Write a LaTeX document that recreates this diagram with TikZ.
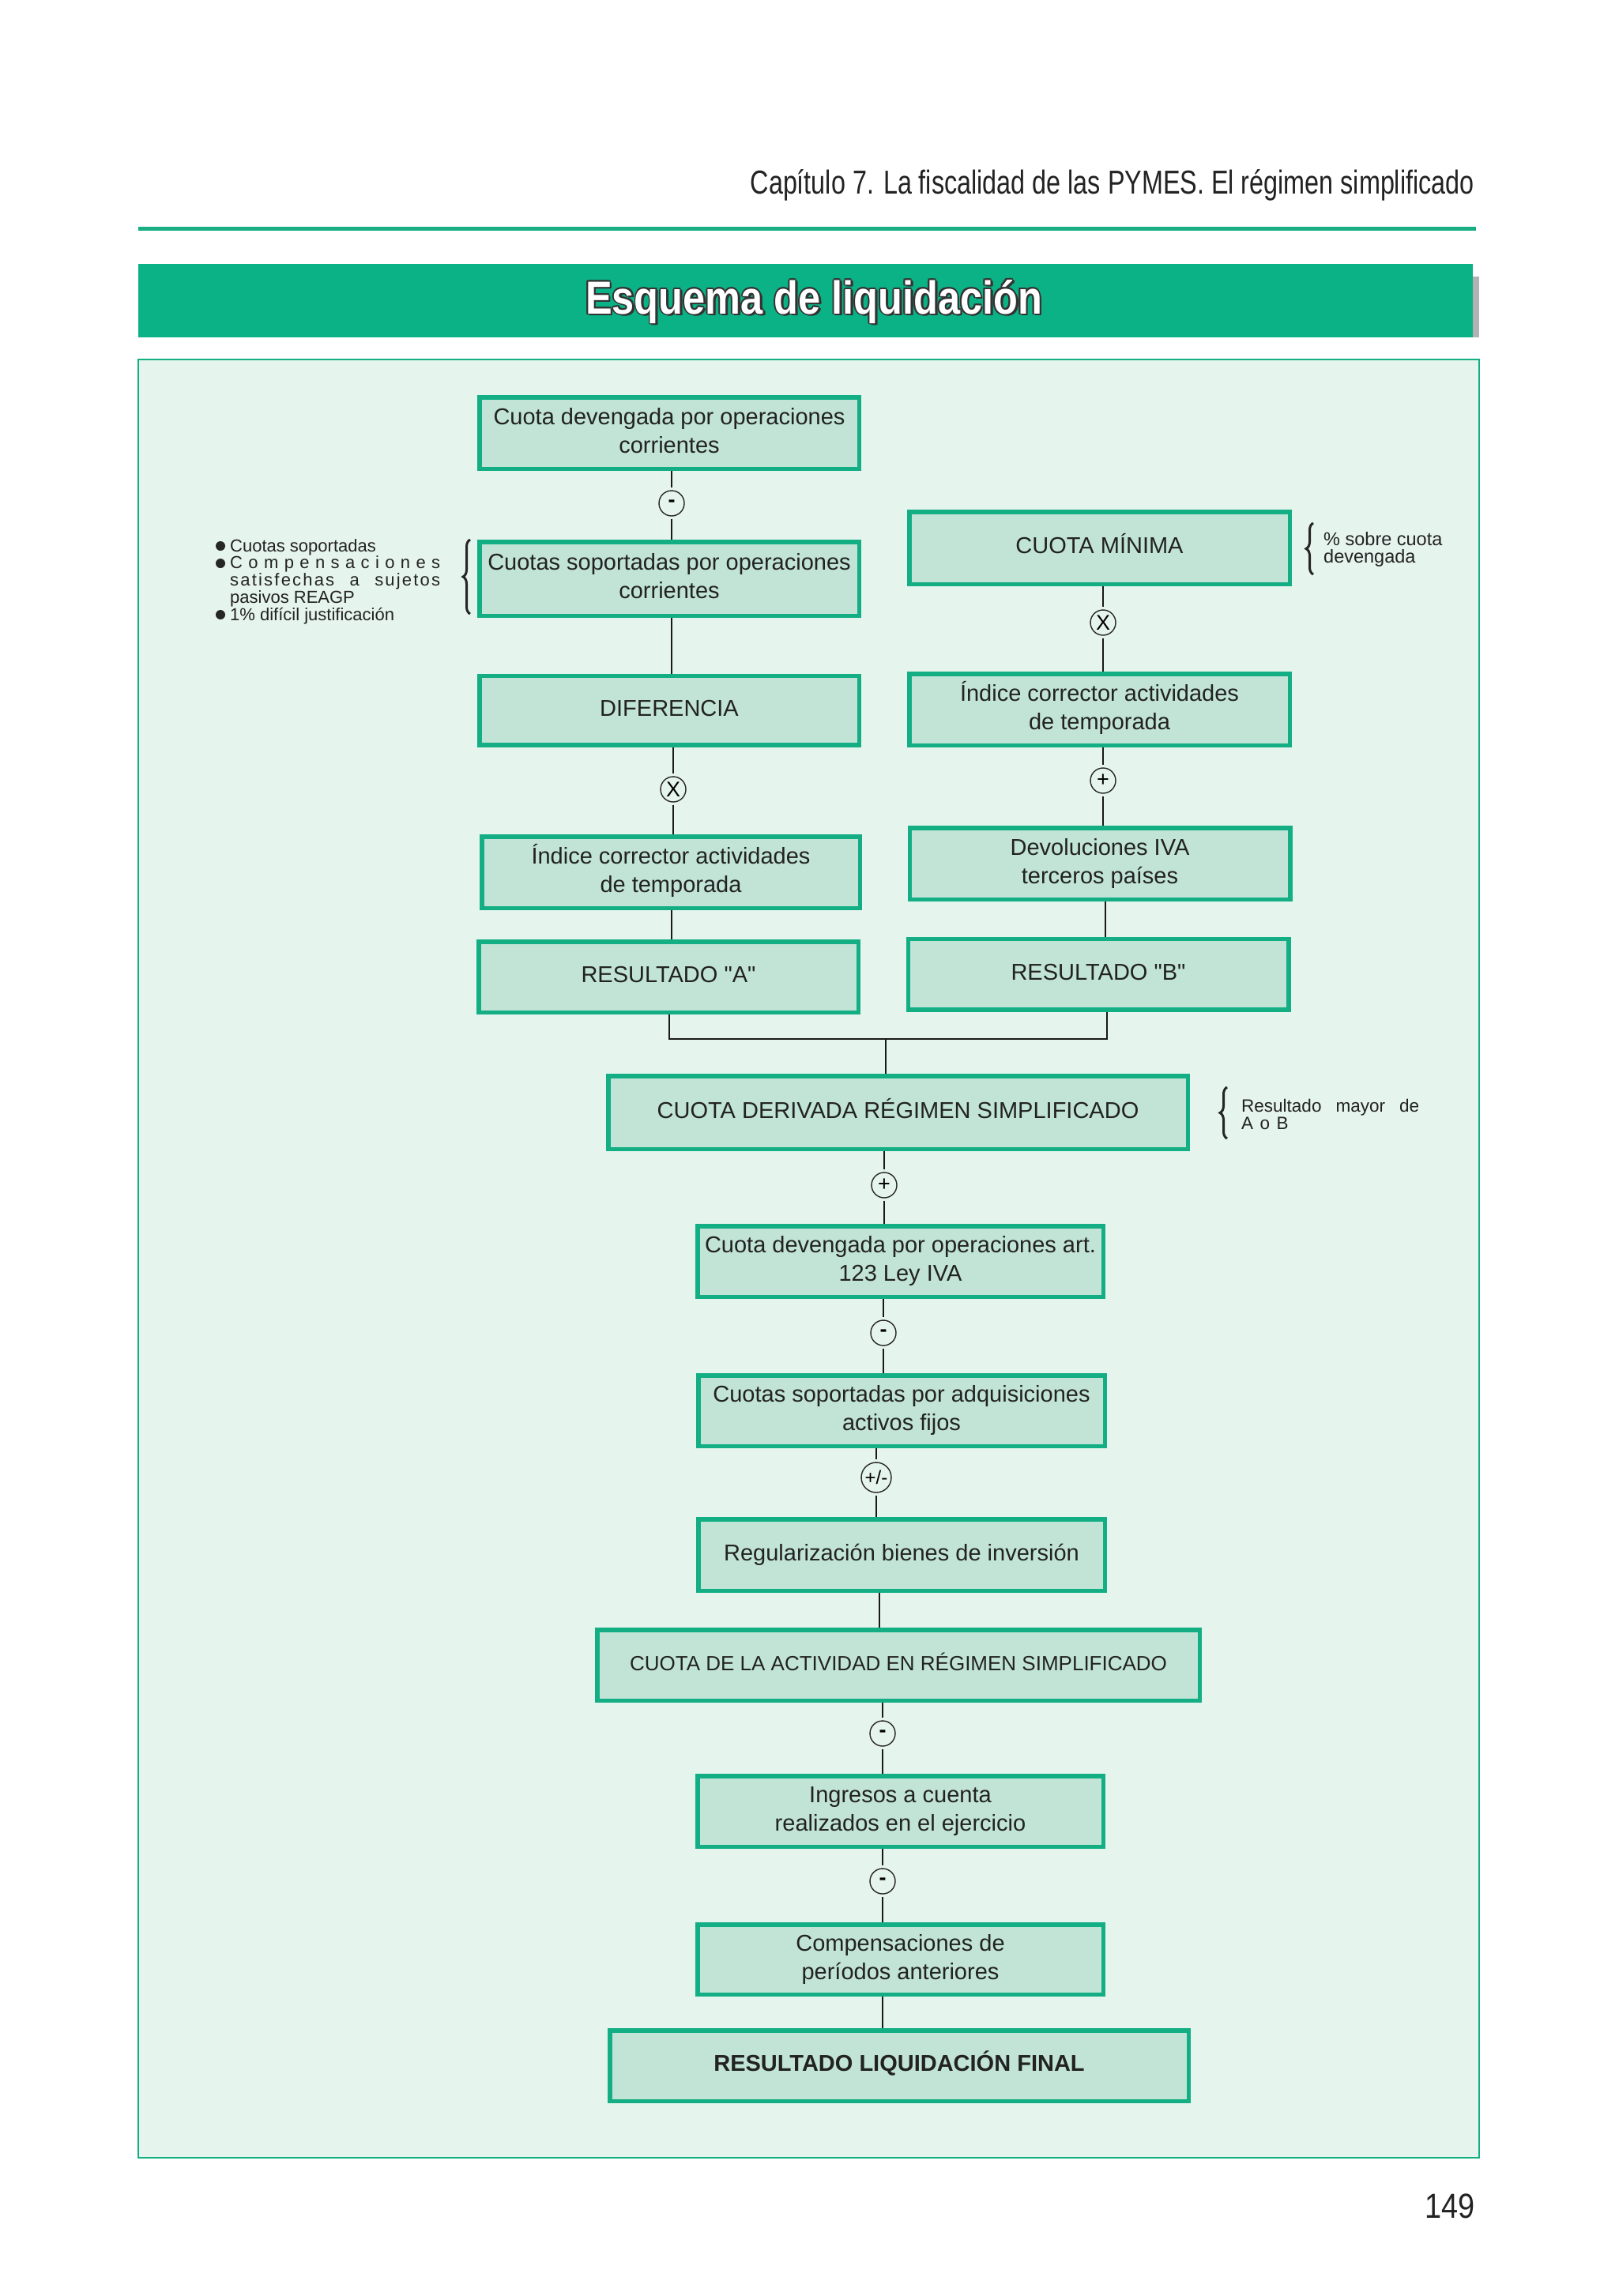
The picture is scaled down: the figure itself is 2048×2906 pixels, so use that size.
\documentclass[tikz,border=0pt]{standalone}
\usepackage{fontspec}
\setmainfont{Liberation Sans}
\newfontfamily\condfont[FakeStretch=0.77]{Liberation Sans}
\newfontfamily\titlefont[FakeStretch=0.86]{Liberation Sans}
\newfontfamily\qfont{Liberation Sans}
\newfontfamily\spacedfont[LetterSpace=10]{Liberation Sans}
\newcommand{\dq}{{\qfont"}}
\usetikzlibrary{decorations.pathreplacing}
\pgfdeclarelayer{back}
\pgfdeclarelayer{bg}
\pgfsetlayers{back,bg,main}
\definecolor{panelfill}{HTML}{E6F4EE}
\definecolor{boxfill}{HTML}{C1E4D7}
\definecolor{boxline}{HTML}{13AE83}
\definecolor{bannergreen}{HTML}{0BB286}
\definecolor{rulegreen}{HTML}{19AD84}
\definecolor{inkgray}{HTML}{222222}
\tikzset{
  box/.style={draw=boxline, line width=5.5pt, fill=boxfill, rectangle, inner sep=0pt,
    align=center, text=inkgray, font=\fontsize{29}{36}\selectfont},
  bx/.style 2 args={minimum width=#1, minimum height=#2},
  opnode/.style={circle, draw=black!85, line width=1.4pt, fill=panelfill, inner sep=0pt,
    minimum size=32pt, font=\fontsize{27}{27}\selectfont},
  conn/.style={draw=black!90, line width=2.2pt},
  toop/.style={conn, shorten >=3pt},
  fromop/.style={conn, shorten <=3pt},
  note/.style={anchor=base west, inner sep=0pt, align=left, text=inkgray},
  bracestyle/.style={decorate, decoration={brace, amplitude=9pt}, line width=3pt, draw=black!85},
  titletext/.style={anchor=base, inner sep=0pt, font=\titlefont\bfseries\fontsize{58.7}{60}\selectfont}
}
\begin{document}
\begin{tikzpicture}[x=1pt,y=-1pt]
\useasboundingbox (0,0) rectangle (2048,2906);
\begin{pgfonlayer}{back}
\fill[white] (0,0) rectangle (2048,2906);
\draw[line width=5pt, rulegreen] (175,289) -- (1868,289);
\fill[bannergreen] (175,334) rectangle (1864,427);
\fill[black!30] (1864,350) rectangle (1872,427);
\filldraw[fill=panelfill, draw=boxline, line width=2.5pt] (175,455) rectangle (1872,2731);
\end{pgfonlayer}

% header
\node[anchor=base east, inner sep=0pt, text=inkgray, font=\condfont\fontsize{42}{42}\selectfont] (header) at (1866,245)
  {Capítulo 7. La fiscalidad de las PYMES. El régimen simplificado};

% banner title
\foreach \dx/\dy [count=\i] in {-1.8/0,1.8/0,0/-1.8,0/1.8,-1.3/-1.3,1.3/1.3,-1.3/1.3,1.3/-1.3,2.8/2.8,2.8/1.5,1.5/2.8}
  \node[titletext, text=black!80] (tsh\i) at (1030+\dx,397+\dy) {Esquema de liquidación};
\node[titletext, text=white] (title) at (1030,397) {Esquema de liquidación};

% left column
\node[box, bx={480.5pt}{90.5pt}] (b1) at (847,548) {\strut Cuota devengada por operaciones\\\strut corrientes};
\node[box, bx={480.5pt}{93.5pt}] (b2) at (847,732.5) {\strut Cuotas soportadas por operaciones\\\strut corrientes};
\node[box, bx={480.5pt}{87.5pt}] (b3) at (847,899) {\strut DIFERENCIA};
\node[box, bx={478.5pt}{90.5pt}] (l4) at (849,1104) {\strut Índice corrector actividades\\\strut de temporada};
\node[box, bx={480.5pt}{89.5pt}] (l5) at (846,1236.5) {\strut RESULTADO \dq A\dq};

% right column
\node[box, bx={481.5pt}{91.5pt}] (r1) at (1391.5,693.5) {\strut CUOTA MÍNIMA};
\node[box, bx={481.5pt}{90.5pt}] (r2) at (1391.5,898) {\strut Índice corrector actividades\\\strut de temporada};
\node[box, bx={481.5pt}{90.5pt}] (r3) at (1392,1093) {\strut Devoluciones IVA\\\strut terceros países};
\node[box, bx={481.5pt}{89.5pt}] (r4) at (1390,1233) {\strut RESULTADO \dq B\dq};

% central column
\node[box, bx={733.5pt}{92.5pt}] (d1) at (1136.5,1408) {\strut CUOTA DERIVADA RÉGIMEN SIMPLIFICADO};
\node[box, bx={513.5pt}{89.5pt}] (d2) at (1139.5,1596.5) {\strut Cuota devengada por operaciones art.\\\strut 123 Ley IVA};
\node[box, bx={514.5pt}{89.5pt}] (d3) at (1141,1785.5) {\strut Cuotas soportadas por adquisiciones\\\strut activos fijos};
\node[box, bx={514.5pt}{90.5pt}] (d4) at (1141,1968) {\strut Regularización bienes de inversión};
\node[box, bx={762.5pt}{89.5pt}, font=\fontsize{26}{36}\selectfont] (d5) at (1137,2107.5) {\strut CUOTA DE LA ACTIVIDAD EN RÉGIMEN SIMPLIFICADO};
\node[box, bx={513.5pt}{89.5pt}] (d6) at (1139.5,2292.5) {\strut Ingresos a cuenta\\\strut realizados en el ejercicio};
\node[box, bx={513.5pt}{88.5pt}] (d7) at (1139.5,2480) {\strut Compensaciones de\\\strut períodos anteriores};
\node[box, bx={732.5pt}{89.5pt}] (d8) at (1138,2614.5) {\strut\textbf{RESULTADO LIQUIDACIÓN FINAL}};

% operator circles
\node[opnode] (o1) at (850,637) {\textbf{-}};
\node[opnode] (o2) at (1396,788) {X};
\node[opnode] (o3) at (852,999) {X};
\node[opnode] (o4) at (1396,988) {+};
\node[opnode] (o5) at (1119,1500) {+};
\node[opnode] (o6) at (1118,1687) {\textbf{-}};
\node[opnode, minimum size=38pt, font=\fontsize{24}{24}\selectfont] (o7) at (1109,1870) {+/-};
\node[opnode] (o8) at (1117,2194) {\textbf{-}};
\node[opnode] (o9) at (1117,2381) {\textbf{-}};

% junction coordinates
\coordinate (jl) at (847,1315);
\coordinate (jr) at (1401,1315);
\coordinate (jm) at (1121,1315);
\coordinate (xl) at (850,1200);
\coordinate (xr) at (1399,1200);
\coordinate (xd) at (1113,2040);
\coordinate (xf) at (1117,2550);

% connectors
\begin{pgfonlayer}{bg}
\draw[toop] (b1.south -| o1) -- (o1);
\draw[fromop] (o1) -- (b2.north -| o1);
\draw[conn] (b2.south -| o1) -- (b3.north -| o1);
\draw[toop] (b3.south -| o3) -- (o3);
\draw[fromop] (o3) -- (l4.north -| o3);
\draw[conn] (l4.south -| xl) -- (l5.north -| xl);
\draw[toop] (r1.south -| o2) -- (o2);
\draw[fromop] (o2) -- (r2.north -| o2);
\draw[toop] (r2.south -| o4) -- (o4);
\draw[fromop] (o4) -- (r3.north -| o4);
\draw[conn] (r3.south -| xr) -- (r4.north -| xr);
\draw[conn] (l5.south -| jl) -- (jl) -- (jr) -- (r4.south -| jr);
\draw[conn] (jm) -- (d1.north -| jm);
\draw[toop] (d1.south -| o5) -- (o5);
\draw[fromop] (o5) -- (d2.north -| o5);
\draw[toop] (d2.south -| o6) -- (o6);
\draw[fromop] (o6) -- (d3.north -| o6);
\draw[toop] (d3.south -| o7) -- (o7);
\draw[fromop] (o7) -- (d4.north -| o7);
\draw[conn] (d4.south -| xd) -- (d5.north -| xd);
\draw[toop] (d5.south -| o8) -- (o8);
\draw[fromop] (o8) -- (d6.north -| o8);
\draw[toop] (d6.south -| o9) -- (o9);
\draw[fromop] (o9) -- (d7.north -| o9);
\draw[conn] (d7.south -| xf) -- (d8.north -| xf);
\end{pgfonlayer}

% left notes (base = last line)
\node[note, font=\fontsize{22}{21.75}\selectfont] (lista) at (291,785)
  {Cuotas soportadas\\
   \hbox to 266pt{C\hfil o\hfil m\hfil p\hfil e\hfil n\hfil s\hfil a\hfil c\hfil i\hfil o\hfil n\hfil e\hfil s}\\
   \hbox to 266pt{\spacedfont satisfechas\hfil a\hfil sujetos}\\
   pasivos REAGP\\
   1\% difícil justificación};
\fill[black!85] (279,691) circle (6);
\fill[black!85] (279,713) circle (6);
\fill[black!85] (279,778) circle (6);
\draw[bracestyle] (595,777) -- (595,683);

% right notes
\node[note, font=\fontsize{23.5}{22}\selectfont] (nota1) at (1675,712) {\% sobre cuota\\devengada};
\draw[bracestyle] (1662,727) -- (1662,662);
\node[note, font=\fontsize{22.5}{22}\selectfont] (nota2) at (1571,1429)
  {\hbox to 225pt{Resultado\hfil mayor\hfil de}\\{\spacedfont A o B}};
\draw[bracestyle] (1553,1441) -- (1553,1376);

% page number
\node[anchor=base east, inner sep=0pt, text=inkgray, font=\titlefont\fontsize{44}{44}\selectfont] (pagenum) at (1867,2807) {149};
\end{tikzpicture}
\end{document}
